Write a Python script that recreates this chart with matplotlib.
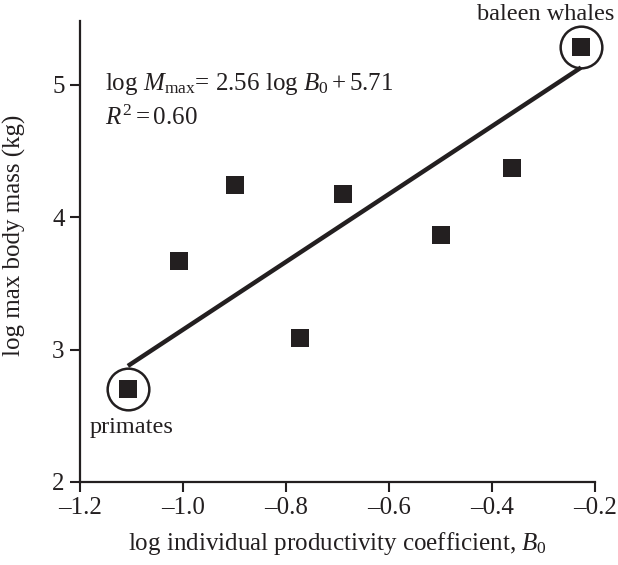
import matplotlib
matplotlib.use("Agg")
import matplotlib.pyplot as plt
from matplotlib.ticker import FuncFormatter

# log productivity coefficient vs log max body mass, one point per group
log_b0 = [-1.107, -1.007, -0.899, -0.773, -0.690, -0.500, -0.361, -0.227]
log_mmax = [2.705, 3.669, 4.242, 3.086, 4.177, 3.861, 4.374, 5.280]

slope = 2.56
intercept = 5.71

# circled groups: (name, index into the lists, label x, label y)
labels = [("primates", 0, -1.100, 2.371), ("baleen whales", 7, -0.295, 5.49)]

plt.rcParams['font.family'] = ['Liberation Serif', 'DejaVu Serif']
plt.rcParams['mathtext.fontset'] = 'custom'
plt.rcParams['mathtext.rm'] = 'Liberation Serif'
plt.rcParams['mathtext.it'] = 'Liberation Serif:italic'

ink = '#231f20'
fs = 18

fig = plt.figure(figsize=(6.18, 5.65), dpi=100)
ax = fig.add_axes([80/618, 1 - 482/565, 515/618, 461/565])

# fitted line between the two circled groups
x_fit = [min(log_b0), max(log_b0)]
y_fit = [slope * x + intercept for x in x_fit]
ax.plot(x_fit, y_fit, color=ink, lw=3.2, solid_capstyle='butt', zorder=2)

ax.plot(log_b0, log_mmax, 's', ms=13.5, color=ink, mew=0, zorder=3)

for name, i, tx, ty in labels:
    ax.plot(log_b0[i], log_mmax[i], 'o', ms=30, mfc='none', mec=ink,
            mew=1.8, zorder=4, clip_on=False)
    ax.text(tx, ty, name, ha='center', va='baseline', fontsize=fs - 0.5,
            color=ink, clip_on=False)

ax.text(0.0485, 0.850, r'log $M_{\mathrm{max}}$= 2.56 log $B_0 + 5.71$',
        transform=ax.transAxes, fontsize=fs, color=ink, va='baseline')
ax.text(0.0485, 0.774, r'$R^2 = 0.60$', transform=ax.transAxes,
        fontsize=fs, color=ink, va='baseline')

ax.set_xlim(-1.2, -0.2)
ax.set_ylim(2, 5.48)
ax.set_xticks([-1.2, -1.0, -0.8, -0.6, -0.4, -0.2])
ax.set_yticks([2, 3, 4, 5])
ax.xaxis.set_major_formatter(FuncFormatter(lambda v, p: f"{v:.1f}".replace('-', '\u2013')))
ax.yaxis.set_major_formatter(FuncFormatter(lambda v, p: f"{v:.0f}"))

for s in ['top', 'right']:
    ax.spines[s].set_visible(False)
for s in ['left', 'bottom']:
    ax.spines[s].set_linewidth(1.6)
    ax.spines[s].set_color(ink)

ax.tick_params(direction='out', length=7, width=1.5, colors=ink,
               labelsize=fs, pad=4)

ax.set_xlabel(r'log individual productivity coefficient, $B_0$', fontsize=fs,
              color=ink, labelpad=8)
ax.set_ylabel('log max body mass (kg)', fontsize=fs, color=ink)
ax.yaxis.set_label_coords(-0.105, 0.536)

fig.savefig("out.png", dpi=100)
